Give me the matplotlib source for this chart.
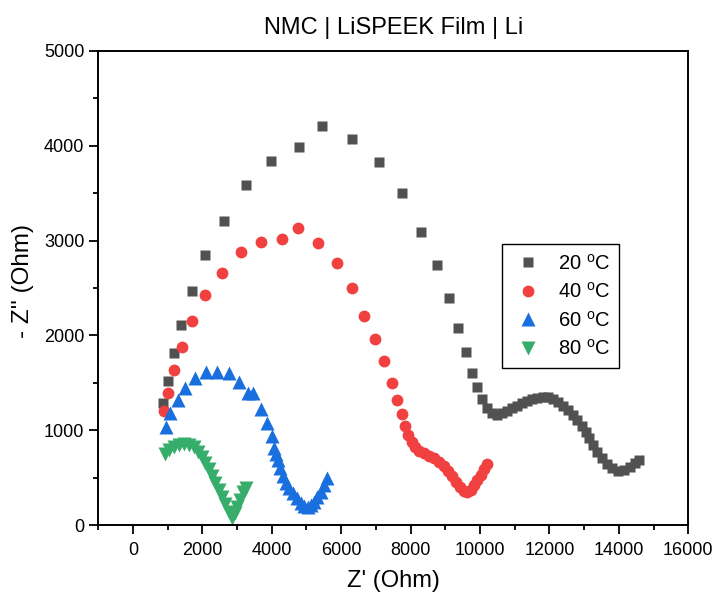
import matplotlib
matplotlib.use("Agg")
import matplotlib.pyplot as plt
from matplotlib.ticker import MultipleLocator

plt.rcParams['font.family'] = ['Liberation Sans', 'DejaVu Sans']
plt.rcParams['mathtext.fontset'] = 'custom'
plt.rcParams['mathtext.rm'] = 'Liberation Sans'

# Nyquist data: Z' (Ohm) and -Z'' (Ohm) for each temperature
z_re_20 = [864, 998, 1170, 1382, 1689, 2082, 2629, 3244, 3964, 4771, 5452, 6307, 7093, 7747,
           8294, 8755, 9101, 9369, 9590, 9772, 9916, 10060, 10195, 10339, 10483, 10627, 10771,
           10915, 11059, 11203, 11347, 11491, 11635, 11808, 11969, 12113, 12257, 12401, 12545,
           12689, 12804, 12931, 13046, 13150, 13265, 13380, 13507, 13651, 13812, 13985, 14158,
           14322, 14466, 14590]
z_im_20 = [1284, 1519, 1811, 2107, 2469, 2845, 3204, 3590, 3837, 3991, 4209, 4069, 3827, 3499,
           3095, 2740, 2392, 2082, 1825, 1607, 1452, 1326, 1231, 1178, 1160, 1178, 1203,
           1231, 1259, 1284, 1311, 1329, 1343, 1354, 1347, 1329, 1294, 1255, 1213,
           1160, 1108, 1048, 984, 915, 844, 773, 704, 644, 598, 573, 580,
           615, 651, 686]

z_re_40 = [882, 1008, 1189, 1411, 1699, 2082, 2572, 3110, 3675, 4280, 4752, 5345, 5875, 6325,
           6670, 6987, 7237, 7459, 7612, 7747, 7851, 7938, 8035, 8130, 8255, 8390, 8542, 8686,
           8830, 8965, 9090, 9205, 9312, 9427, 9541, 9637, 9735, 9830, 9925, 10022, 10117, 10195]
z_im_40 = [1206, 1396, 1639, 1882, 2155, 2430, 2655, 2877, 2989, 3017, 3133, 2978, 2767, 2504,
           2208, 1966, 1727, 1501, 1322, 1168, 1044, 950, 879, 826, 784, 756, 731, 704,
           668, 626, 573, 517, 457, 398, 359, 345, 369, 422, 475, 528, 588, 640]

z_re_60 = [950, 1074, 1285, 1506, 1794, 2102, 2419, 2753, 3061, 3312, 3473, 3695, 3859, 4003,
           4070, 4130, 4193, 4242, 4320, 4415, 4510, 4608, 4723, 4838, 4934, 5029, 5126, 5222,
           5317, 5414, 5510, 5587]
z_im_60 = [1030, 1178, 1319, 1442, 1548, 1611, 1617, 1600, 1512, 1389, 1389, 1224, 1079, 939,
           809, 750, 686, 598, 517, 446, 387, 334, 282, 235, 200, 193, 211, 246,
           299, 351, 422, 493]

z_re_80 = [930, 1045, 1170, 1313, 1457, 1601, 1745, 1872, 1987, 2082, 2177, 2275, 2370, 2465,
           2563, 2658, 2753, 2851, 2926, 2995, 3070, 3168, 3254]
z_im_80 = [746, 791, 820, 844, 851, 844, 820, 773, 721, 657, 588, 517, 446, 369,
           299, 222, 140, 71, 123, 193, 264, 351, 394]

labels = ['20 $^\\mathregular{o}$C', '40 $^\\mathregular{o}$C',
          '60 $^\\mathregular{o}$C', '80 $^\\mathregular{o}$C']

fig = plt.figure(figsize=(7.17, 5.98), dpi=100)
ax = fig.add_axes([0.137, 0.122, 0.823, 0.793])

ax.plot(z_re_20, z_im_20, 's', color='#515151', ms=7.5, mec='none', label=labels[0])
ax.plot(z_re_40, z_im_40, 'o', color='#F14040', ms=8.5, mec='none', label=labels[1])
ax.plot(z_re_60, z_im_60, '^', color='#1A6FDF', ms=9.5, mec='none', label=labels[2])
ax.plot(z_re_80, z_im_80, 'v', color='#37AD6B', ms=9.5, mec='none', label=labels[3])

ax.set_xlim(-1000, 16000)
ax.set_ylim(0, 5000)
ax.xaxis.set_major_locator(MultipleLocator(2000))
ax.xaxis.set_minor_locator(MultipleLocator(1000))
ax.yaxis.set_major_locator(MultipleLocator(1000))
ax.yaxis.set_minor_locator(MultipleLocator(500))
ax.tick_params(which='both', direction='out', top=False, right=False, labelsize=13, width=1.3)
ax.tick_params(which='major', length=6.5)
ax.tick_params(which='minor', length=3.5)
ax.tick_params(axis='x', which='major', pad=5.5)
for s in ax.spines.values():
    s.set_linewidth(1.4)

ax.set_xlabel("Z' (Ohm)", fontsize=17, labelpad=8)
ax.set_ylabel("- Z'' (Ohm)", fontsize=17.5)
ax.yaxis.set_label_coords(-0.108, 0.515)
ax.set_title('NMC | LiSPEEK Film | Li', fontsize=17, pad=12)

leg = ax.legend(loc='upper left', bbox_to_anchor=(0.685, 0.592), fontsize=14.5,
                frameon=True, fancybox=False, edgecolor='black', framealpha=1,
                handletextpad=0.7, borderpad=0.45, labelspacing=0.42, handlelength=1.6,
                borderaxespad=0)
leg.get_frame().set_linewidth(1.0)

fig.savefig('out.png', dpi=100)
